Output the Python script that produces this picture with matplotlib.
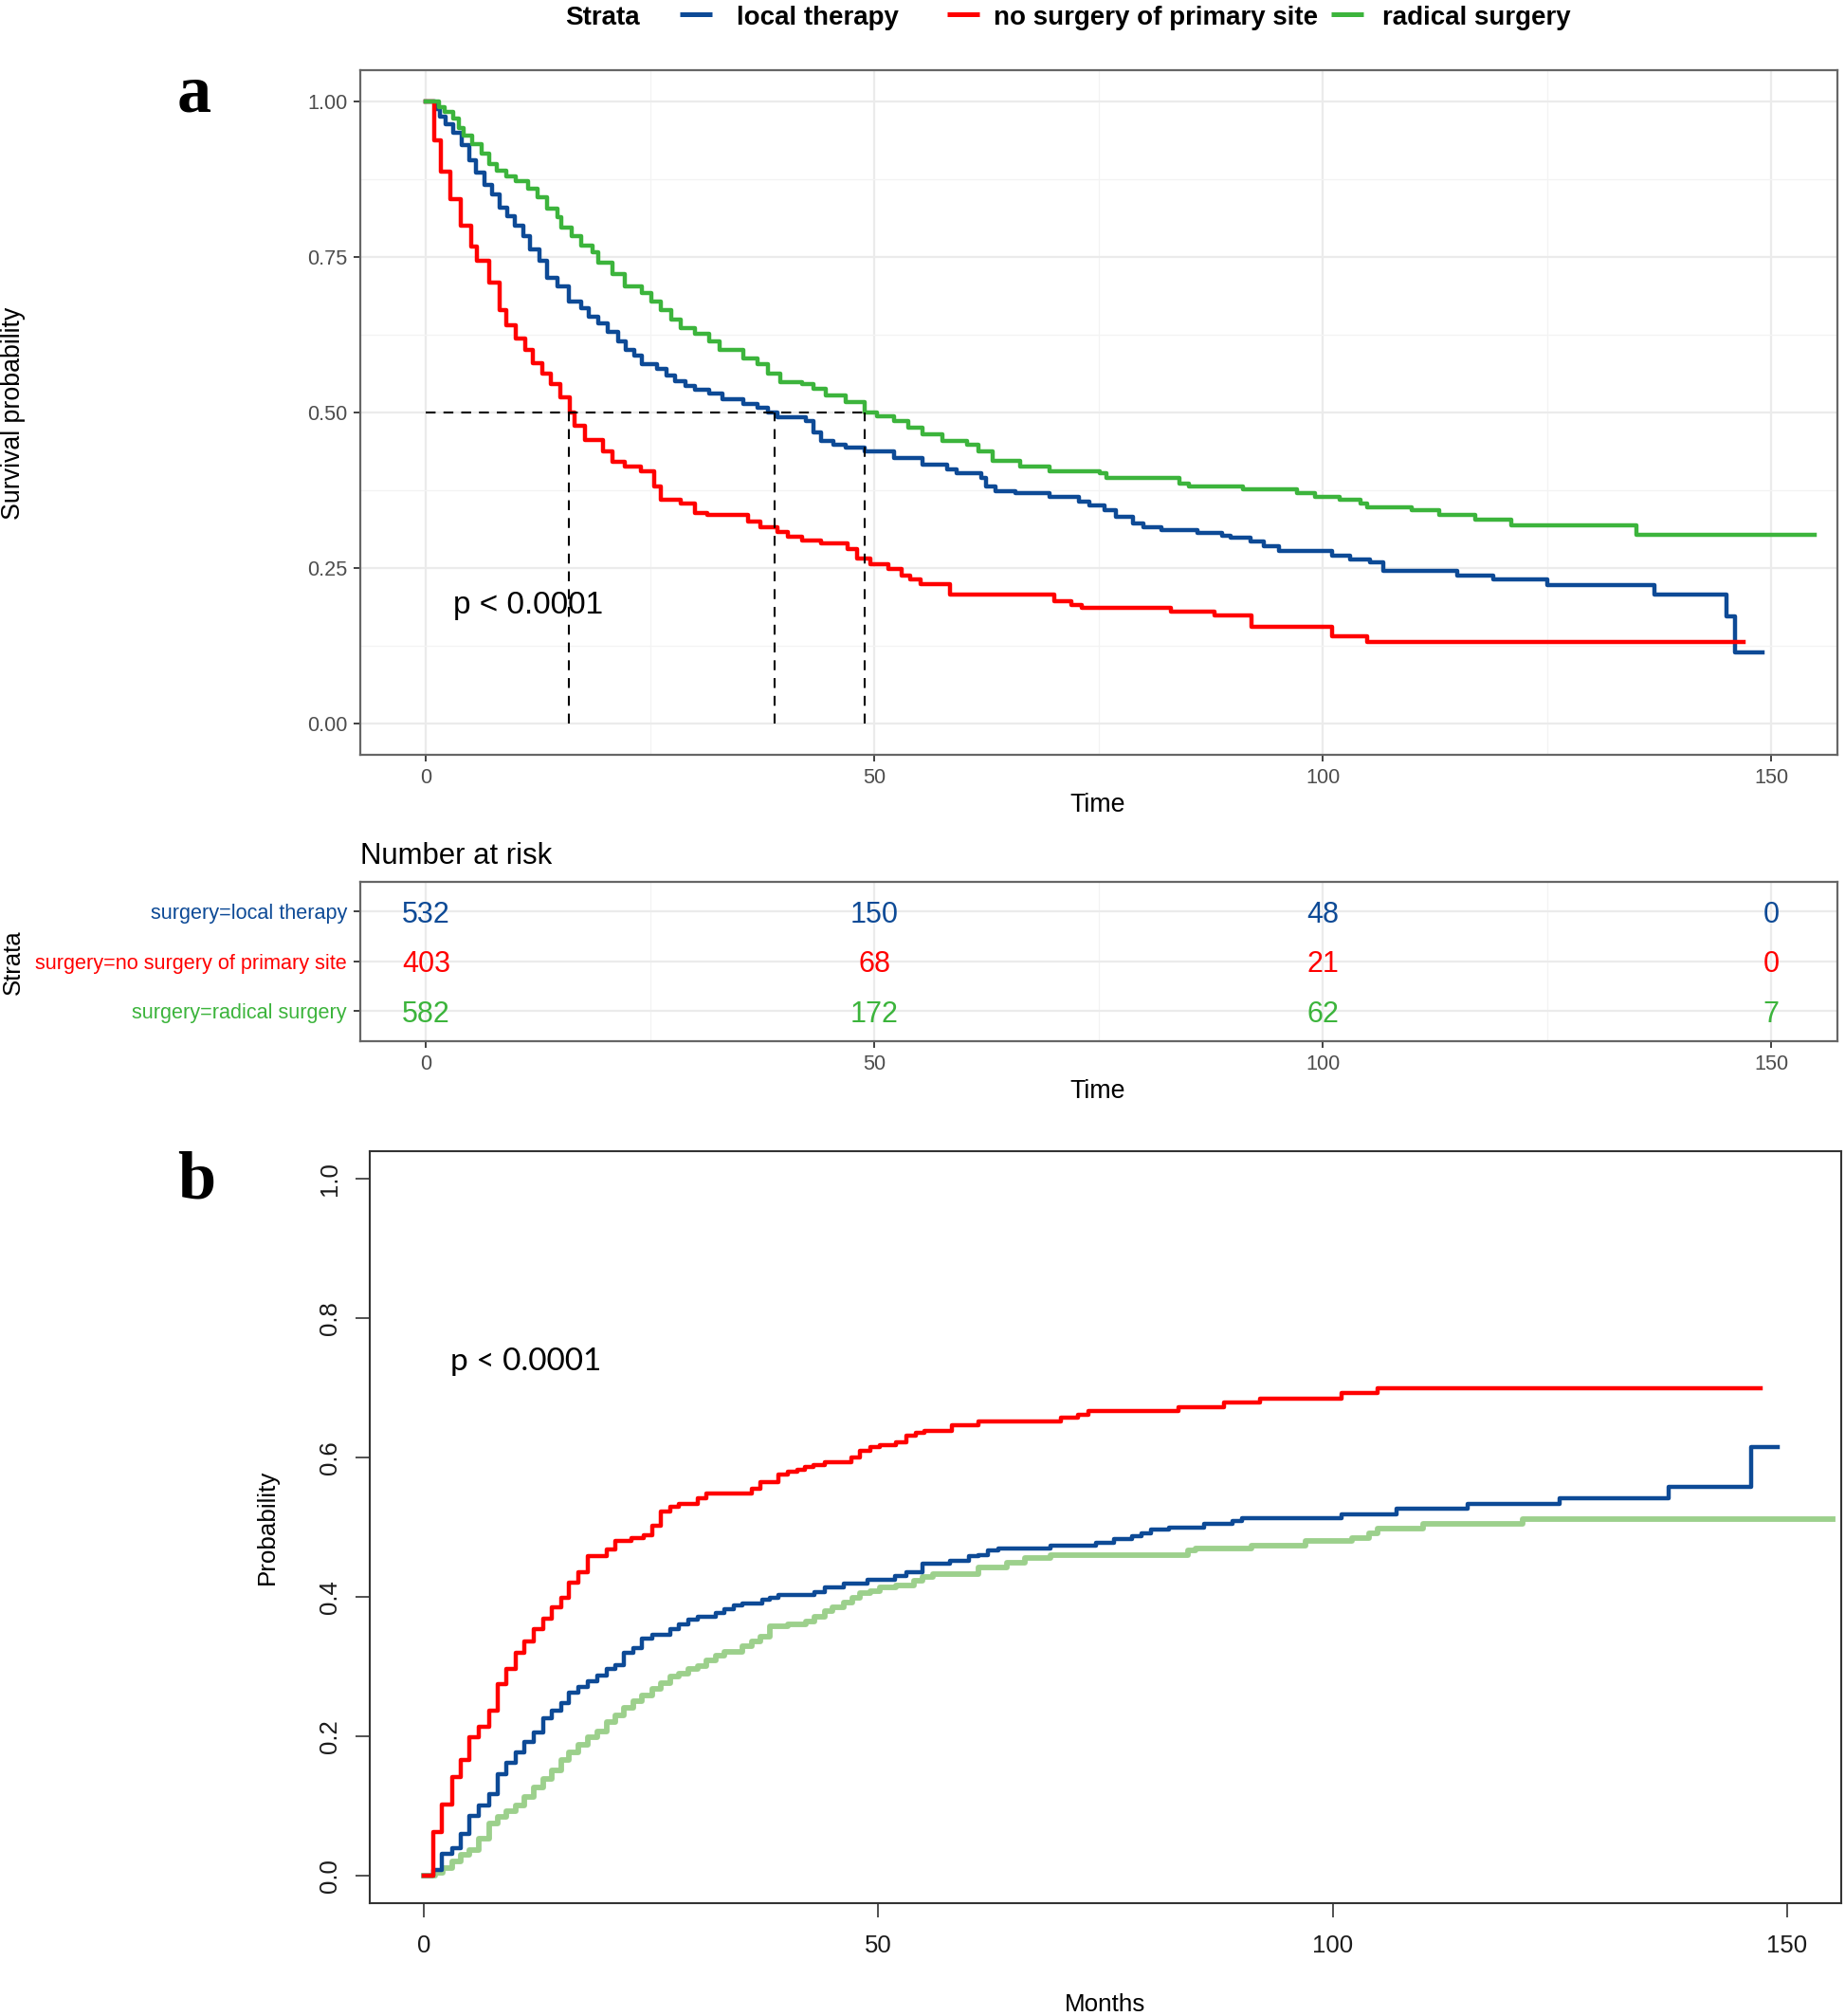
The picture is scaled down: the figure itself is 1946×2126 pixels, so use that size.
import matplotlib
matplotlib.use("Agg")
import matplotlib.pyplot as plt
from matplotlib import font_manager
from matplotlib.lines import Line2D

# ---- data ------------------------------------------------------------------
groups = ["local therapy", "no surgery of primary site", "radical surgery"]

# panel a: Kaplan-Meier overall survival (step points, where="post")
km_local_t = [0, 1.0, 1.5, 2.2, 3.0, 4.0, 4.8, 5.6, 6.5, 7.4, 8.2, 9.0, 9.9, 10.8,
              11.6, 12.6, 13.5, 14.6, 15.9, 17.3, 18.1, 19.2, 20.3, 21.4, 22.3, 23.2,
              24.1, 25.7, 26.8, 27.8, 28.9, 30.0, 31.6, 33.0, 35.4, 37.0, 38.1, 39.2,
              42.4, 43.2, 44.0, 45.4, 46.8, 48.9, 52.2, 55.4, 58.1, 59.2, 61.9, 62.4,
              63.5, 65.7, 69.5, 72.8, 74.0, 75.7, 76.9, 78.8, 80.0, 82.0, 86.0, 88.8,
              89.7, 91.9, 93.4, 95.1, 101.0, 103.0, 105.3, 106.8, 115.0, 119.0, 125.0,
              137.0, 145.0, 146.0, 149.0]
km_local_s = [1.0, 0.988, 0.975, 0.963, 0.950, 0.930, 0.905, 0.886, 0.866, 0.850, 0.830,
              0.815, 0.800, 0.783, 0.762, 0.744, 0.716, 0.703, 0.678, 0.668, 0.654, 0.643,
              0.629, 0.615, 0.601, 0.591, 0.577, 0.570, 0.559, 0.550, 0.542, 0.536, 0.531,
              0.521, 0.514, 0.507, 0.500, 0.493, 0.486, 0.468, 0.454, 0.448, 0.444, 0.437,
              0.427, 0.416, 0.409, 0.402, 0.395, 0.381, 0.374, 0.371, 0.364, 0.357, 0.350,
              0.343, 0.333, 0.322, 0.315, 0.311, 0.306, 0.302, 0.299, 0.292, 0.285, 0.277,
              0.270, 0.264, 0.259, 0.245, 0.238, 0.231, 0.222, 0.207, 0.172, 0.115, 0.115]

km_none_t = [0, 0.9, 1.6, 2.7, 3.9, 5.0, 5.7, 7.0, 8.2, 8.9, 10.0, 11.0, 11.9, 13.0, 13.9,
             15.0, 16.0, 16.5, 17.7, 19.7, 20.8, 22.2, 24.0, 25.4, 26.2, 28.4, 30.0, 31.4,
             35.9, 37.3, 39.2, 40.3, 41.9, 44.0, 47.0, 48.1, 49.5, 51.6, 53.0, 54.0, 55.1,
             58.4, 70.1, 72.0, 73.1, 83.1, 87.9, 92.1, 101.0, 105.0, 146.9]
km_none_s = [1.0, 0.937, 0.887, 0.843, 0.801, 0.767, 0.744, 0.709, 0.664, 0.640, 0.619,
             0.601, 0.580, 0.563, 0.545, 0.524, 0.500, 0.479, 0.456, 0.437, 0.420, 0.413,
             0.406, 0.381, 0.360, 0.353, 0.339, 0.336, 0.325, 0.316, 0.308, 0.301, 0.294,
             0.290, 0.280, 0.266, 0.256, 0.249, 0.238, 0.231, 0.224, 0.207, 0.196, 0.190,
             0.186, 0.180, 0.174, 0.156, 0.140, 0.131, 0.131]

km_radical_t = [0, 1.4, 2.1, 3.0, 3.7, 4.2, 5.1, 6.2, 7.0, 7.9, 8.9, 10.0, 11.4, 12.4, 13.5,
                14.6, 15.1, 16.2, 17.3, 18.6, 19.2, 20.8, 22.2, 24.1, 25.1, 26.2, 27.3, 28.4,
                30.0, 31.6, 32.7, 35.4, 37.0, 38.1, 39.5, 41.9, 43.2, 44.6, 46.8, 48.9, 50.3,
                52.2, 53.8, 55.4, 57.6, 60.3, 61.6, 63.2, 66.2, 69.5, 75.1, 75.9, 84.0, 85.1,
                91.1, 97.1, 99.1, 101.9, 104.2, 105.0, 109.9, 113.0, 117.0, 121.0, 135.0, 154.9]
km_radical_s = [1.0, 0.991, 0.983, 0.973, 0.958, 0.945, 0.932, 0.916, 0.900, 0.888, 0.880,
                0.872, 0.860, 0.846, 0.828, 0.814, 0.797, 0.783, 0.769, 0.758, 0.741, 0.723,
                0.703, 0.692, 0.678, 0.664, 0.650, 0.636, 0.626, 0.615, 0.601, 0.587, 0.577,
                0.563, 0.549, 0.545, 0.538, 0.528, 0.517, 0.500, 0.494, 0.486, 0.476, 0.465,
                0.455, 0.448, 0.437, 0.423, 0.413, 0.406, 0.402, 0.395, 0.385, 0.381, 0.376,
                0.371, 0.365, 0.360, 0.353, 0.348, 0.343, 0.336, 0.327, 0.318, 0.304, 0.304]

median_times = [15.9, 38.9, 48.9]

# number at risk table
risk_times = [0, 50, 100, 150]
risk_local = [532, 150, 48, 0]
risk_none = [403, 68, 21, 0]
risk_radical = [582, 172, 62, 7]

# panel b: cumulative incidence
ci_local_t = [0, 1.0, 2.0, 3.1, 4.1, 5.0, 6.1, 7.2, 8.1, 9.1, 10.1, 11.1, 12.1, 13.1, 14.1,
              15.1, 16.0, 17.0, 18.0, 19.1, 20.1, 21.1, 22.0, 23.1, 24.0, 25.1, 27.1, 28.1,
              29.1, 30.1, 32.1, 33.1, 34.1, 35.0, 37.2, 38.1, 39.0, 43.0, 44.1, 46.2, 48.8,
              51.8, 53.1, 54.9, 57.9, 60.0, 61.0, 62.1, 63.2, 69.0, 74.0, 75.9, 77.9, 79.0,
              80.0, 82.0, 85.9, 89.0, 90.0, 101.0, 107.0, 114.9, 125.0, 137.0, 146.0, 149.0]
ci_local_p = [0, 0.008, 0.031, 0.039, 0.059, 0.085, 0.100, 0.116, 0.145, 0.162, 0.177,
              0.191, 0.205, 0.226, 0.237, 0.247, 0.262, 0.271, 0.279, 0.287, 0.296, 0.302,
              0.319, 0.326, 0.340, 0.346, 0.354, 0.360, 0.367, 0.371, 0.377, 0.382, 0.388,
              0.391, 0.396, 0.399, 0.402, 0.407, 0.414, 0.419, 0.424, 0.430, 0.435, 0.448,
              0.452, 0.458, 0.460, 0.466, 0.469, 0.473, 0.477, 0.483, 0.487, 0.491, 0.496,
              0.499, 0.505, 0.509, 0.513, 0.519, 0.526, 0.533, 0.541, 0.558, 0.615, 0.615]

ci_none_t = [0, 1.06, 2.0, 3.1, 4.1, 5.0, 6.1, 7.2, 8.1, 9.1, 10.1, 11.1, 12.1, 13.1, 14.1,
             15.1, 16.0, 17.0, 18.0, 20.1, 21.1, 22.8, 24.2, 25.1, 26.1, 27.1, 28.1, 30.1,
             31.1, 36.1, 37.0, 39.0, 40.1, 41.1, 41.9, 42.9, 44.1, 47.0, 48.0, 49.1, 50.2,
             52.0, 53.1, 54.1, 55.1, 58.1, 61.0, 70.1, 72.0, 73.1, 83.0, 88.0, 92.0, 101.0,
             104.9, 147.1]
ci_none_p = [0, 0.0625, 0.102, 0.141, 0.166, 0.198, 0.213, 0.237, 0.275, 0.297, 0.319,
             0.336, 0.353, 0.369, 0.385, 0.399, 0.421, 0.435, 0.458, 0.468, 0.480, 0.484,
             0.488, 0.502, 0.523, 0.529, 0.533, 0.541, 0.548, 0.555, 0.565, 0.575, 0.579,
             0.583, 0.586, 0.589, 0.593, 0.600, 0.609, 0.615, 0.618, 0.622, 0.631, 0.635,
             0.638, 0.647, 0.652, 0.657, 0.661, 0.667, 0.672, 0.679, 0.685, 0.693, 0.700,
             0.700]

ci_radical_t = [0, 1.2, 2.1, 3.1, 4.1, 5.0, 6.1, 7.2, 8.1, 9.1, 10.1, 11.1, 12.1, 13.1,
                14.1, 15.1, 16.0, 17.0, 18.0, 19.1, 20.1, 21.1, 22.0, 23.1, 24.0, 25.1, 26.1,
                27.1, 28.1, 29.1, 30.1, 31.1, 32.1, 33.1, 35.0, 36.1, 37.0, 38.1, 40.1, 42.0,
                43.0, 44.1, 45.0, 46.2, 47.1, 48.0, 49.1, 50.2, 52.0, 53.9, 54.9, 56.0, 61.0,
                64.2, 66.1, 69.0, 84.1, 84.9, 91.1, 97.0, 102.1, 104.0, 104.9, 110.0, 120.9,
                155.0]
ci_radical_p = [0, 0.004, 0.011, 0.020, 0.029, 0.036, 0.053, 0.075, 0.084, 0.092, 0.100,
                0.113, 0.126, 0.138, 0.150, 0.165, 0.176, 0.187, 0.198, 0.206, 0.220, 0.229,
                0.240, 0.250, 0.258, 0.268, 0.276, 0.285, 0.290, 0.296, 0.301, 0.308, 0.315,
                0.321, 0.329, 0.336, 0.343, 0.357, 0.360, 0.364, 0.371, 0.379, 0.385, 0.392,
                0.399, 0.405, 0.408, 0.414, 0.416, 0.423, 0.428, 0.432, 0.442, 0.449, 0.456,
                0.460, 0.466, 0.470, 0.474, 0.480, 0.485, 0.491, 0.498, 0.505, 0.512, 0.512]

# ---- styling ----------------------------------------------------------------
BLUE, RED, GREEN, LIGHT_GREEN = "#0D4A96", "#FF0000", "#3CB43C", "#9CD08C"
GRID = "#EBEBEB"
W, H = 1946, 2126  # output size in px (dpi 100)

_installed = {f.name for f in font_manager.fontManager.ttflist}
SANS = "Liberation Sans" if "Liberation Sans" in _installed else "DejaVu Sans"
if "Liberation Sans Narrow" in _installed:
    LEG_FONT, LEG_SIZE = "Liberation Sans Narrow", 24.3
else:
    LEG_FONT, LEG_SIZE = SANS, 20
plt.rcParams["font.family"] = [SANS, "DejaVu Sans"]


def fx(px):
    return px / W


def fy(py):
    return 1 - py / H


def rect(left, top, right, bottom):
    return [fx(left), fy(bottom), (right - left) / W, (bottom - top) / H]


fig = plt.figure(figsize=(W / 100, H / 100), dpi=100)

# ---- legend strip on top ----------------------------------------------------
fig.text(fx(596), fy(26), "Strata", fontsize=LEG_SIZE, fontweight="bold",
         family=[LEG_FONT, "DejaVu Sans"], va="baseline")
legend_items = [(717, 777, BLUE, groups[0]), (999, 1048, RED, groups[1]),
                (1404, 1458, GREEN, groups[2])]
for kx, tx, col, label in legend_items:
    fig.add_artist(Line2D([fx(kx), fx(kx + 34)], [fy(15), fy(15)], color=col, lw=3.6,
                          solid_capstyle="butt"))
    fig.text(fx(tx), fy(26), label, fontsize=LEG_SIZE, fontweight="bold",
             family=[LEG_FONT, "DejaVu Sans"], va="baseline")

# ---- panel a: KM curves -----------------------------------------------------
ax = fig.add_axes(rect(379.5, 74.2, 1938, 795.8))
ax.step(km_local_t, km_local_s, where="post", color=BLUE, lw=3.2)
ax.step(km_none_t, km_none_s, where="post", color=RED, lw=3.2)
ax.step(km_radical_t, km_radical_s, where="post", color=GREEN, lw=3.2)
ax.hlines(0.5, 0, max(median_times), colors="black", linestyles=(0, (5, 4)), lw=1.5)
ax.vlines(median_times, 0, 0.5, colors="black", linestyles=(0, (5, 4)), lw=1.5)
ax.text(3.0, 0.177, "p < 0.0001", fontsize=24, va="baseline")

ax.set_xlim(-7.4, 157.4)
ax.set_ylim(-0.05, 1.05)
ax.set_xticks([0, 50, 100, 150])
ax.set_xticks([25, 75, 125], minor=True)
ax.set_yticks([0, 0.25, 0.5, 0.75, 1.0])
ax.set_yticklabels(["0.00", "0.25", "0.50", "0.75", "1.00"])
ax.set_yticks([0.125, 0.375, 0.625, 0.875], minor=True)
ax.grid(True, which="major", color=GRID, lw=1.6)
ax.grid(True, which="minor", color="#F3F3F3", lw=0.9)
ax.set_axisbelow(True)
ax.tick_params(which="major", length=5, width=1.3, color="#333333",
               labelsize=15.6, labelcolor="#4D4D4D")
ax.tick_params(axis="y", pad=4.2)
ax.tick_params(axis="x", pad=5.0)
ax.tick_params(which="minor", length=0)
for sp in ax.spines.values():
    sp.set_color("#666666")
    sp.set_linewidth(1.6)

fig.text(fx(1158), fy(856), "Time", fontsize=19.3, ha="center", va="baseline")
fig.text(fx(14), fy(436), "Survival probability", fontsize=19.3, rotation=90,
         ha="center", va="center")
fig.text(fx(205), fy(118), "a", fontsize=52, fontweight="bold",
         family=["Liberation Serif", "DejaVu Serif"], ha="center", va="baseline")

# ---- number at risk table ---------------------------------------------------
tab = fig.add_axes(rect(379.5, 930, 1938, 1097.7))
rows = [(3, risk_local, BLUE), (2, risk_none, RED), (1, risk_radical, GREEN)]
for row, counts, col in rows:
    for t, n in zip(risk_times, counts):
        tab.text(t, row, str(n), color=col, fontsize=22, ha="center",
                 va="center_baseline")
tab.set_xlim(-7.4, 157.4)
tab.set_ylim(0.4, 3.6)
tab.set_xticks([0, 50, 100, 150])
tab.set_xticks([25, 75, 125], minor=True)
tab.set_yticks([3, 2, 1])
tab.set_yticklabels(["surgery=" + g for g in groups])
for lbl, col in zip(tab.get_yticklabels(), [BLUE, RED, GREEN]):
    lbl.set_color(col)
tab.grid(True, which="major", color=GRID, lw=1.6)
tab.grid(True, which="minor", axis="x", color="#F3F3F3", lw=0.9)
tab.set_axisbelow(True)
tab.tick_params(which="major", length=5, width=1.3, color="#333333")
tab.tick_params(axis="y", labelsize=15.6, pad=4.7)
tab.tick_params(axis="x", labelsize=15.6, labelcolor="#4D4D4D", pad=5.2)
tab.tick_params(which="minor", length=0)
for sp in tab.spines.values():
    sp.set_color("#666666")
    sp.set_linewidth(1.6)

fig.text(fx(380), fy(911), "Number at risk", fontsize=22.4, va="baseline")
fig.text(fx(1158), fy(1158), "Time", fontsize=19.3, ha="center", va="baseline")
fig.text(fx(14), fy(1015), "Strata", fontsize=18.5, rotation=90, ha="center", va="center")

# ---- panel b: cumulative incidence -------------------------------------------
bx = fig.add_axes(rect(389.5, 1214, 1942.4, 2007))
bx.step(ci_radical_t, ci_radical_p, where="post", color=LIGHT_GREEN, lw=4.2)
bx.step(ci_local_t, ci_local_p, where="post", color=BLUE, lw=3.2)
bx.step(ci_none_t, ci_none_p, where="post", color=RED, lw=3.2)
bx.text(2.9, 0.725, "p < 0.0001", fontsize=24, va="baseline",
        family=["Lato", "DejaVu Sans"])

bx.set_xlim(-6, 156)
bx.set_ylim(-0.04, 1.04)
bx.set_xticks([0, 50, 100, 150])
bx.set_yticks([0, 0.2, 0.4, 0.6, 0.8, 1.0])
bx.set_yticklabels(["0.0", "0.2", "0.4", "0.6", "0.8", "1.0"])
bx.tick_params(length=10.5, width=1.2, color="#333333", labelsize=18.5,
               labelcolor="#1A1A1A")
bx.tick_params(axis="x", pad=13.5)
bx.tick_params(axis="y", pad=10.7)
plt.setp(bx.get_yticklabels(), rotation=90, va="center")
for sp in bx.spines.values():
    sp.set_color("#333333")
    sp.set_linewidth(1.5)

fig.text(fx(282), fy(1610), "Probability", fontsize=18.7, rotation=90,
         ha="center", va="center")
fig.text(fx(1166), fy(2121), "Months", fontsize=18.7, ha="center", va="baseline")
fig.text(fx(207), fy(1263), "b", fontsize=52, fontweight="bold",
         family=["Liberation Serif", "DejaVu Serif"], ha="center", va="baseline")

fig.savefig("out.png", dpi=100)
plt.close(fig)
